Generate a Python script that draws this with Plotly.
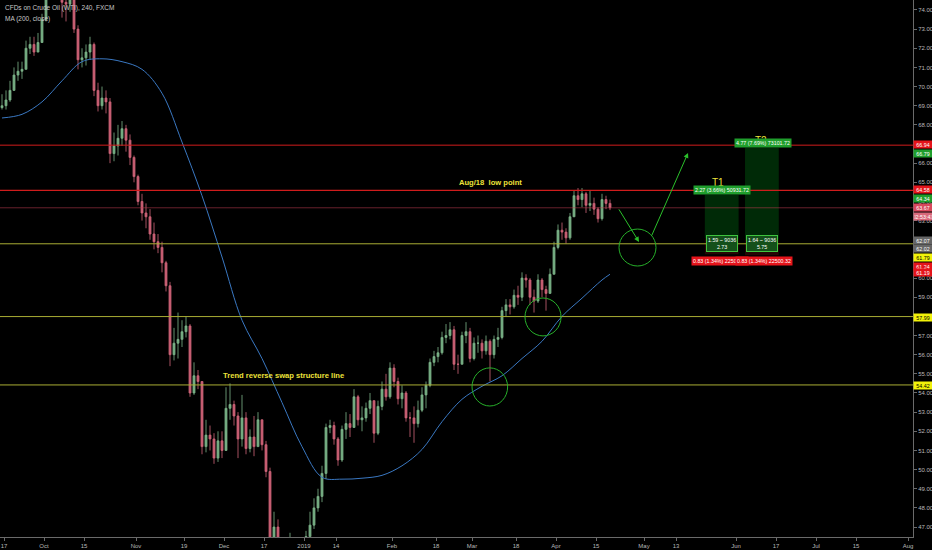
import pandas as pd
import plotly.graph_objects as go

# daily bars (Sep 14 2018 .. Apr 18 2019)
close = [69.0, 69.3, 69.8, 70.6, 70.8, 70.9, 72.0, 72.2, 71.8, 72.3,
         73.5, 75.0, 75.2, 76.0, 74.9, 74.4, 74.3, 74.8, 73.0, 71.4,
         71.5, 71.8, 72.2, 69.8, 69.0, 69.4, 69.2, 66.5, 66.9, 67.3,
         67.8, 67.2, 66.3, 65.3, 64.0, 63.4, 63.2, 62.3, 61.9, 61.6,
         60.8, 59.6, 56.0, 56.6, 56.8, 57.2, 57.5, 54.0, 54.9, 54.6,
         51.2, 51.8, 51.6, 50.6, 51.5, 51.0, 53.2, 53.4, 52.8, 51.6,
         52.7, 51.1, 51.7, 51.2, 52.6, 51.3, 49.9, 46.3, 47.0, 46.0,
         45.6, 42.8, 46.2, 44.6, 45.3, 45.4, 46.5, 47.1, 48.0, 48.6,
         49.8, 52.2, 52.3, 51.6, 50.5, 52.1, 52.4, 52.2, 53.8, 52.6,
         52.7, 53.2, 53.6, 51.9, 53.3, 54.2, 53.8, 55.3, 54.6, 53.7,
         54.0, 52.7, 52.7, 52.4, 53.1, 53.9, 54.4, 55.6, 55.9, 56.1,
         56.9, 57.0, 57.3, 55.5, 55.5, 57.0, 57.2, 55.8, 56.6, 56.6,
         56.2, 56.7, 56.0, 56.8, 56.9, 58.3, 58.6, 58.5, 59.1, 59.0,
         60.0, 59.9, 59.0, 58.8, 59.9, 59.4, 59.2, 60.2, 61.6, 62.5,
         62.4, 62.1, 63.2, 64.3, 64.1, 64.4, 63.8, 63.9, 63.6, 63.1,
         64.1, 63.9, 63.67]
high = [69.6, 69.8, 70.3, 71.0, 71.3, 71.3, 72.4, 72.6, 72.6, 72.8,
        73.8, 75.4, 75.9, 76.8, 76.2, 75.5, 75.0, 75.3, 75.0, 73.2,
        72.0, 72.2, 72.6, 72.3, 70.2, 70.0, 69.8, 69.4, 67.6, 68.0,
        68.2, 68.0, 67.5, 66.4, 65.4, 64.4, 63.9, 63.6, 62.9, 62.3,
        61.9, 60.9, 59.8, 57.4, 58.2, 57.8, 58.0, 57.6, 55.6, 55.2,
        54.6, 52.6, 52.3, 51.9, 52.0, 52.0, 54.3, 54.5, 53.6, 53.0,
        53.9, 53.0, 52.1, 52.8, 53.0, 52.6, 51.5, 50.1, 47.8, 47.4,
        46.3, 45.8, 46.7, 46.4, 46.2, 46.1, 46.8, 47.8, 48.5, 49.0,
        50.2, 52.4, 52.6, 52.5, 51.7, 52.3, 53.0, 52.9, 54.2, 53.9,
        53.3, 53.5, 54.0, 53.6, 53.6, 54.6, 55.0, 55.6, 55.5, 54.8,
        54.4, 54.1, 53.0, 53.3, 53.6, 54.3, 54.6, 55.8, 56.2, 56.4,
        57.2, 57.6, 57.7, 57.5, 56.0, 57.2, 57.7, 57.4, 56.9, 57.0,
        56.8, 57.0, 56.8, 57.0, 57.4, 58.5, 58.9, 58.9, 59.4, 59.6,
        60.3, 60.2, 60.0, 59.4, 60.2, 60.0, 59.6, 60.5, 61.9, 62.8,
        62.9, 62.6, 63.4, 64.6, 64.7, 64.7, 64.5, 64.6, 64.2, 63.7,
        64.4, 64.3, 64.1]
low = [68.8, 68.8, 69.2, 69.8, 70.3, 70.4, 70.9, 71.7, 71.6, 71.8,
       72.5, 73.4, 74.6, 75.0, 74.7, 73.6, 73.4, 73.9, 72.8, 70.9,
       71.0, 71.1, 71.4, 69.5, 68.7, 68.8, 68.6, 66.0, 66.1, 66.4,
       66.9, 66.6, 65.9, 65.0, 63.8, 63.0, 62.6, 62.0, 61.5, 61.3,
       60.3, 59.3, 55.4, 55.7, 55.8, 56.4, 56.9, 53.8, 53.9, 54.2,
       50.8, 50.9, 51.0, 50.3, 50.4, 50.6, 52.0, 52.6, 52.3, 50.6,
       51.2, 50.8, 50.9, 50.7, 51.2, 51.0, 49.6, 46.0, 45.8, 45.8,
       45.2, 42.4, 42.6, 44.3, 44.4, 45.0, 44.6, 45.5, 46.9, 47.8,
       48.3, 49.5, 51.9, 51.3, 50.2, 50.4, 51.6, 51.7, 52.2, 52.3,
       52.0, 52.5, 52.9, 51.4, 51.8, 53.1, 53.6, 53.7, 54.3, 53.4,
       53.2, 52.5, 51.7, 51.4, 52.2, 53.0, 53.2, 54.3, 55.4, 55.6,
       56.0, 56.6, 56.8, 55.2, 55.0, 55.5, 56.6, 55.6, 55.7, 56.1,
       55.8, 56.0, 54.6, 55.8, 56.4, 56.8, 58.0, 58.1, 58.4, 58.6,
       58.8, 59.5, 58.6, 58.2, 58.7, 59.0, 58.3, 59.2, 60.2, 61.5,
       62.0, 61.8, 62.0, 63.2, 63.8, 63.7, 63.4, 63.5, 63.3, 62.9,
       63.0, 63.6, 63.55]
first_open = 68.9

# MA(200, close), one reading every 5 bars
ma_values = [68.36, 68.55, 69.2, 70.3, 71.3, 71.45, 71.3, 70.9, 69.65, 67.1,
             64.3, 61.1, 57.8, 55.8, 53.5, 51.2, 49.6, 49.5, 49.55, 49.7,
             50.2, 51.05, 52.5, 53.67, 54.35, 54.9, 55.8, 56.7, 58.0, 58.95,
             59.9, 60.2]

holidays = ["2018-12-25", "2019-01-01"]

tick_dates = ["2018-09-17", "2018-10-01", "2018-10-15", "2018-11-01", "2018-11-19",
              "2018-12-03", "2018-12-17", "2019-01-02", "2019-01-14", "2019-02-01",
              "2019-02-18", "2019-03-01", "2019-03-18", "2019-04-01", "2019-04-15",
              "2019-05-01", "2019-05-13", "2019-06-03", "2019-06-17", "2019-07-01",
              "2019-07-15", "2019-08-01"]
tick_text = ["17", "Oct", "15", "Nov", "19", "Dec", "17", "2019", "14", "Feb",
             "18", "Mar", "18", "Apr", "15", "May", "13", "Jun", "17", "Jul",
             "15", "Aug"]

red_levels = [66.94, 64.58]
yellow_levels = [61.79, 57.99, 54.42]
last_price = 63.67

# long position tools: entry, target, stop
positions = [
    dict(entry=62.07, target=64.34, stop=61.24, x0=0.772, x1=0.809,
         top="2.27 (3.66%) 50931.72", mid="1.59 ~ 9036<br>2.73",
         bottom="0.83 (1.34%) 22500.32"),
    dict(entry=62.02, target=66.79, stop=61.19, x0=0.816, x1=0.853,
         top="4.77 (7.69%) 73101.72", mid="1.64 ~ 9036<br>5.75",
         bottom="0.83 (1.34%) 22500.32"),
]

# price scale tags: text, position, background, text colour
scale_tags = [
    ("66.94", 66.95, "#e5141b", "white"),
    ("66.79", 66.48, "#1f9e2c", "white"),
    ("64.58", 64.60, "#e5141b", "white"),
    ("64.34", 64.13, "#1f9e2c", "white"),
    ("63.67", 63.66, "#d9485c", "white"),
    ("02:53:41", 63.19, "#d9687a", "white"),
    ("62.07", 61.94, "#666666", "white"),
    ("62.02", 61.57, "#666666", "white"),
    ("61.79", 61.10, "#f2f20a", "black"),
    ("61.24", 60.63, "#e5141b", "white"),
    ("61.19", 60.27, "#e5141b", "white"),
    ("57.99", 57.92, "#f2f20a", "black"),
    ("54.42", 54.37, "#f2f20a", "black"),
]

days = pd.bdate_range("2018-09-14", "2019-04-18")
days = days[~days.isin(pd.to_datetime(holidays))]
dates = days + pd.Timedelta(hours=12)
opens = [first_open] + close[:-1]
ma_idx = list(range(0, len(dates), 5)) + [len(dates) - 1]
ma_dates = [dates[i] for i in ma_idx]

fig = go.Figure()
fig.add_trace(go.Candlestick(
    x=dates, open=opens, high=high, low=low, close=close,
    increasing=dict(line=dict(color="#7db58a", width=0.8), fillcolor="#6fa67c"),
    decreasing=dict(line=dict(color="#cf6478", width=0.8), fillcolor="#c25a6e"),
    whiskerwidth=0, showlegend=False, hoverinfo="skip"))
fig.add_trace(go.Scatter(
    x=ma_dates, y=ma_values, mode="lines", line=dict(color="#3a78c2", width=1),
    line_shape="spline", showlegend=False, hoverinfo="skip"))

shapes = []
for lv in red_levels:
    shapes.append(dict(type="line", xref="paper", x0=0, x1=1, yref="y", y0=lv, y1=lv,
                       line=dict(color="#d01c1c", width=1.2 if lv == 64.58 else 1)))
shapes.append(dict(type="line", xref="paper", x0=0, x1=1, yref="y", y0=last_price,
                   y1=last_price, line=dict(color="rgba(190,60,80,0.55)", width=1)))
for lv in yellow_levels:
    shapes.append(dict(type="line", xref="paper", x0=0, x1=1, yref="y", y0=lv, y1=lv,
                       line=dict(color="#a9ad34", width=1)))
for p in positions:
    shapes.append(dict(type="rect", xref="paper", x0=p["x0"], x1=p["x1"], yref="y",
                       y0=p["entry"], y1=p["target"], line=dict(width=0),
                       fillcolor="rgba(0,120,20,0.35)", layer="below"))
    shapes.append(dict(type="rect", xref="paper", x0=p["x0"], x1=p["x1"], yref="y",
                       y0=p["stop"], y1=p["entry"], line=dict(width=0),
                       fillcolor="rgba(150,20,20,0.25)", layer="below"))
for cx0, cx1, cy0, cy1 in [(0.517, 0.556, 53.32, 55.31), (0.575, 0.6145, 56.98, 58.96),
                           (0.678, 0.7185, 60.63, 62.56)]:
    shapes.append(dict(type="circle", xref="paper", x0=cx0, x1=cx1, yref="y",
                       y0=cy0, y1=cy1, line=dict(color="#27b02a", width=1)))

ann = []
small = dict(family="Liberation Sans, Arial", size=6.5, color="#c8c8c8")
ann.append(dict(xref="paper", yref="paper", x=0.003, y=0.985, xanchor="left",
                yanchor="middle", text="CFDs on Crude Oil (WTI), 240, FXCM",
                showarrow=False, font=small))
ann.append(dict(xref="paper", yref="paper", x=0.003, y=0.965, xanchor="left",
                yanchor="middle", text="MA (200, close)", showarrow=False, font=small))

title_font = dict(family="Liberation Sans, Arial", size=7.6, color="#ece23a")
ann.append(dict(xref="paper", yref="y", x=0.5367, y=64.97, xanchor="center",
                text="<b>Aug/18  low point</b>", showarrow=False, font=title_font))
ann.append(dict(xref="paper", yref="y", x=0.31, y=54.89, xanchor="center",
                text="<b>Trend reverse swap structure line</b>", showarrow=False,
                font=title_font))
ann.append(dict(xref="paper", yref="y", x=0.7864, y=64.97, xanchor="center", text="T1",
                showarrow=False,
                font=dict(family="Liberation Sans, Arial", size=10, color="#ece23a")))
ann.append(dict(xref="paper", yref="y", x=0.8335, y=67.21, xanchor="center", text="T2",
                showarrow=False,
                font=dict(family="Liberation Sans, Arial", size=10, color="#ece23a")))

tag_font = dict(family="Liberation Sans, Arial", size=5.3, color="white")
for p, cx in zip(positions, [0.791, 0.8357]):
    ann.append(dict(xref="paper", yref="y", x=cx, y=p["target"] + 0.26, xanchor="center",
                    text=p["top"], showarrow=False, bgcolor="#1f9e2c", borderpad=1,
                    font=tag_font))
    ann.append(dict(xref="paper", yref="y", x=(p["x0"] + p["x1"]) / 2, y=61.83,
                    xanchor="center", text=p["mid"], showarrow=False, bgcolor="#14501a",
                    bordercolor="#3fc43f", borderwidth=1, borderpad=1, font=tag_font))
for p, cx in zip(positions, [0.7886, 0.8368]):
    ann.append(dict(xref="paper", yref="y", x=cx, y=60.89, xanchor="center",
                    text=p["bottom"], showarrow=False, bgcolor="#e5141b", borderpad=1,
                    font=tag_font))

# drawn arrows
ann.append(dict(xref="paper", yref="y", x=0.6999, y=61.89, ax=-21, ay=-34,
                text="", showarrow=True, arrowhead=2, arrowsize=1, arrowwidth=1,
                arrowcolor="#2bc02b"))
ann.append(dict(xref="paper", yref="y", x=0.7536, y=66.53, ax=-37, ay=84,
                text="", showarrow=True, arrowhead=2, arrowsize=1, arrowwidth=1,
                arrowcolor="#2bc02b"))

for text, yv, bg, fg in scale_tags:
    ann.append(dict(xref="paper", yref="y", x=1.0, y=yv, xanchor="left",
                    text=text, showarrow=False, bgcolor=bg, borderpad=0.5, width=17,
                    font=dict(family="Liberation Sans, Arial", size=5.3, color=fg)))

fig.update_layout(
    width=932, height=550,
    margin=dict(l=0, r=19, t=0, b=13, autoexpand=False),
    paper_bgcolor="#000000", plot_bgcolor="#000000",
    shapes=shapes, annotations=ann,
    showlegend=False,
    xaxis=dict(
        type="date", rangeslider=dict(visible=False),
        rangebreaks=[dict(bounds=["sat", "mon"]), dict(values=holidays)],
        range=["2018-09-14 00:00", "2019-08-02 06:00"],
        tickvals=tick_dates, ticktext=tick_text,
        showgrid=False, zeroline=False,
        showline=True, linecolor="#6a6a6a", linewidth=1,
        ticks="outside", ticklen=3, tickcolor="#6a6a6a",
        tickfont=dict(family="Liberation Sans, Arial", size=6, color="#b8b8b8"),
    ),
    yaxis=dict(
        side="right", range=[46.48, 74.52],
        tickvals=list(range(47, 75)), ticktext=[f"{v:.2f}" for v in range(47, 75)],
        showgrid=False, zeroline=False,
        showline=True, linecolor="#6a6a6a", linewidth=1,
        ticks="outside", ticklen=3, tickcolor="#6a6a6a",
        tickfont=dict(family="Liberation Sans, Arial", size=6, color="#b8b8b8"),
    ),
)

fig.write_html("out.html", config={"displayModeBar": False},
               post_script="document.body.style.margin='0';"
               "document.body.style.background='#000';")
